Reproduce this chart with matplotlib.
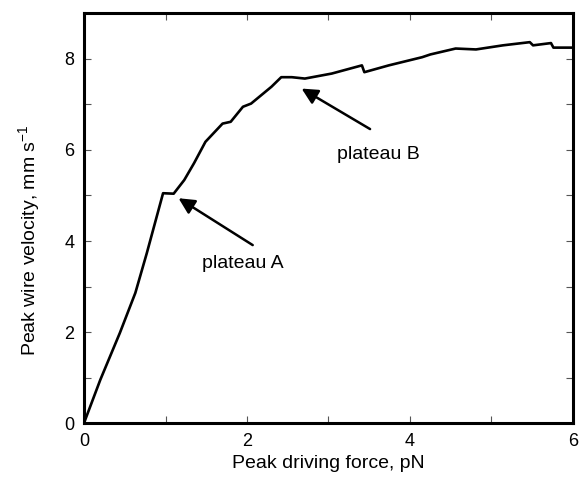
import numpy as np
import matplotlib
matplotlib.use('Agg')
import matplotlib.pyplot as plt

plt.rcParams['font.family'] = ['Liberation Sans', 'DejaVu Sans']

# curve
force = [0.0, 0.20, 0.44, 0.63, 0.77, 0.97, 1.10, 1.23, 1.35, 1.49, 1.70, 1.80,
         1.90, 1.95, 2.05, 2.30, 2.42, 2.55, 2.71, 3.04, 3.41, 3.44, 3.74, 4.15,
         4.25, 4.56, 4.81, 5.14, 5.47, 5.51, 5.73, 5.76, 6.0]
velocity = [0.0, 0.95, 1.98, 2.86, 3.73, 5.05, 5.04, 5.34, 5.71, 6.18, 6.58, 6.62,
            6.84, 6.95, 7.02, 7.39, 7.60, 7.60, 7.57, 7.68, 7.86, 7.71, 7.86, 8.04,
            8.10, 8.23, 8.21, 8.30, 8.37, 8.30, 8.35, 8.25, 8.25]

x_ticks = [0, 1, 2, 3, 4, 5, 6]
x_labels = ['0', '', '2', '', '4', '', '6']
y_ticks = [0, 1, 2, 3, 4, 5, 6, 7, 8]
y_labels = ['0', '', '2', '', '4', '', '6', '', '8']

fig = plt.figure(figsize=(5.81, 4.82), dpi=100)
ax = fig.add_axes([0.1446, 0.1224, 0.8416, 0.8496])

ax.plot(force, velocity, color='black', lw=1.9, solid_joinstyle='round')

ax.set_xlim(0, 6)
ax.set_ylim(0, 9)
ax.set_xticks(x_ticks)
ax.set_xticklabels(x_labels)
ax.set_yticks(y_ticks)
ax.set_yticklabels(y_labels)
ax.tick_params(direction='in', length=5, width=0.8, color='#555555',
               top=True, right=True, labelsize=13, pad=7)
for s in ax.spines.values():
    s.set_linewidth(2.2)

ax.set_xlabel('Peak driving force, pN', fontsize=14, labelpad=4)
ax.set_ylabel('Peak wire velocity, mm s$^{\\mathregular{-1}}$', fontsize=14)
ax.yaxis.set_label_coords(-0.084, 0.447)

arrow = dict(arrowstyle='-|>', color='black', lw=1.8, mutation_scale=24,
             shrinkA=0, shrinkB=0)
ax.annotate('', xy=(1.16, 4.94), xytext=(2.07, 3.91), arrowprops=arrow)
ax.text(1.95, 3.51, 'plateau A', fontsize=14, ha='center', va='center')
ax.annotate('', xy=(2.67, 7.35), xytext=(3.51, 6.46), arrowprops=arrow)
ax.text(3.61, 5.91, 'plateau B', fontsize=14, ha='center', va='center')

fig.savefig('out.png', dpi=100)
